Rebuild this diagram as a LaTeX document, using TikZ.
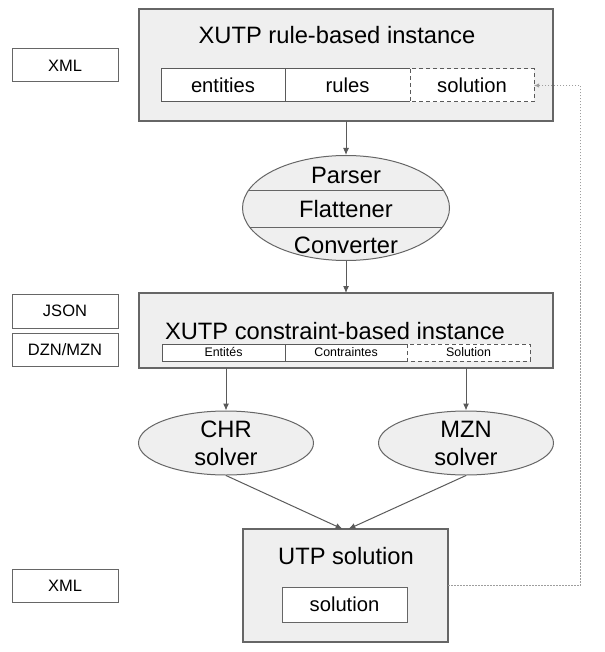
\documentclass[tikz,border=0pt]{standalone}
\usepackage{fontspec}
\setmainfont{Liberation Sans}
\usetikzlibrary{arrows.meta, shapes.geometric, positioning, calc}
\definecolor{boxgray}{HTML}{EFEFEF}
\definecolor{linegray}{HTML}{666666}
\definecolor{arrowgray}{HTML}{5A5A5A}
\definecolor{dotgray}{HTML}{9E9E9E}
\newcommand{\bigfont}{\fontsize{23.7}{28}\selectfont}
\newcommand{\midfont}{\fontsize{20.2}{24}\selectfont}
\newcommand{\smallfont}{\fontsize{12.4}{15}\selectfont}
\newcommand{\fmtfont}{\fontsize{16.5}{20}\selectfont}
\tikzset{
  stage/.style={
    rectangle, draw=linegray, fill=boxgray, line width=1.2pt, inner sep=0pt, outer sep=0pt
  },
  proc/.style={ellipse, draw=linegray, fill=boxgray, line width=1pt, inner sep=0pt,
    align=center, font=\bigfont},
  field/.style={rectangle, fill=white, inner sep=0pt, outer sep=0pt, minimum height=33pt,
    text height=14.5pt, text depth=0pt, font=\midfont},
  smallfield/.style={field, minimum height=17pt, text height=8.9pt, font=\smallfont},
  fmt/.style={rectangle, draw=linegray, line width=1pt, minimum width=106pt, minimum height=33pt,
    inner sep=0pt, text height=11.8pt, text depth=0pt, font=\fmtfont},
  title/.style={anchor=base, inner sep=0pt, font=\bigfont},
  fieldline/.style={draw=arrowgray, line width=1pt},
  edge/.style={-{Latex[length=7pt,width=6pt]}, draw=arrowgray, line width=1pt},
  feedback/.style={-{Latex[length=5pt,width=4.5pt]}, draw=dotgray, line width=0.9pt,
    dash pattern=on 1.5pt off 1.5pt}
}

\begin{document}
\begin{tikzpicture}[x=1pt, y=-1pt]
    \useasboundingbox (0,0) rectangle (604,652);
    % rule-based instance
    \node[stage, minimum width=414pt, minimum height=112pt] (inst) at (346,65) {};
    \node[title] (instT) at (337,44) {XUTP rule-based instance};
    \node[field, minimum width=124pt] (ent1) at (223,85.5) {entities};
    \node[field, minimum width=125pt, right=0pt of ent1] (rul1) {rules};
    \node[field, minimum width=124pt, right=0pt of rul1] (sol1) {solution};
    \draw[fieldline] (sol1.north west) -- (ent1.north west) -- (ent1.south west) -- (sol1.south west)
      (rul1.north west) -- (rul1.south west);
    \draw[fieldline, dash pattern=on 4pt off 3pt] (sol1.north west) rectangle (sol1.south east);

    % parser / flattener / converter
    \node[proc, minimum width=207pt, minimum height=105pt, below=34pt of inst,
      path picture={\draw[linegray, line width=1pt]
        ([yshift=17pt]path picture bounding box.west) -- ++(207,0)
        ([yshift=-19pt]path picture bounding box.west) -- ++(207,0);}] (conv) {};
    \node[title] (pars) at ($(conv.center)+(0,-24)$) {Parser};
    \node[title] (flat) at ($(conv.center)+(0,10)$) {Flattener};
    \node[title] (cnvt) at ($(conv.center)+(0,45)$) {Converter};

    % constraint-based instance
    \node[stage, minimum width=414pt, minimum height=75pt, below=32pt of conv] (inst2) {};
    \node[title] (inst2T) at (335,339) {XUTP constraint-based instance};
    \node[smallfield, minimum width=123pt] (ent2) at (223.5,352.5) {Entités};
    \node[smallfield, minimum width=122pt, right=0pt of ent2] (rul2) {Contraintes};
    \node[smallfield, minimum width=123pt, right=0pt of rul2] (sol2) {Solution};
    \draw[fieldline] (sol2.north west) -- (ent2.north west) -- (ent2.south west) -- (sol2.south west)
      (rul2.north west) -- (rul2.south west);
    \draw[fieldline, dash pattern=on 4pt off 3pt] (sol2.north west) rectangle (sol2.south east);

    % solvers
    \node[proc, minimum width=175pt, minimum height=64pt] (chr) at (226,443) {CHR\\solver};
    \node[proc, minimum width=175pt, minimum height=64pt] (mzn) at (466,443) {MZN\\solver};

    % solution
    \node[stage, minimum width=205pt, minimum height=113pt] (utp) at (345.5,585.5) {};
    \node[title] (utpT) at (346,564) {UTP solution};
    \node[field, draw=linegray, line width=1pt, minimum width=125pt, minimum height=35pt] (sol3)
      at (344.5,604.5) {solution};

    % formats
    \node[fmt] (xml1) at (65,65.5) {XML};
    \node[fmt, minimum height=34pt] (json) at (65,311) {JSON};
    \node[fmt] (dzn) at (65,349.5) {DZN/MZN};
    \node[fmt] (xml2) at (65,585.5) {XML};

    \draw[edge] (inst) -- (conv);
    \draw[edge] (conv) -- (inst2);
    \draw[edge] (chr.north |- inst2.south) -- (chr.north);
    \draw[edge] (mzn.north |- inst2.south) -- (mzn.north);
    \draw[edge] (chr.south) -- (utp.93);
    \draw[edge] (mzn.south) -- (utp.87);
    \coordinate (fb) at (580,0);
    \draw[feedback] (utp.east) -- (utp.east -| fb) |- (sol1.east);
\end{tikzpicture}
\end{document}
